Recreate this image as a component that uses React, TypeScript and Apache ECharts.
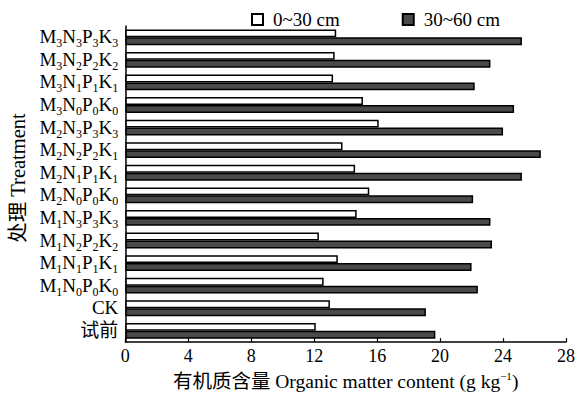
import React, { useEffect, useRef } from 'react';
import * as echarts from 'echarts';

const categories = [
  'M3N3P3K3', 'M3N2P2K2', 'M3N1P1K1', 'M3N0P0K0',
  'M2N3P3K3', 'M2N2P2K1', 'M2N1P1K1', 'M2N0P0K0',
  'M1N3P3K3', 'M1N2P2K2', 'M1N1P1K1', 'M1N0P0K0',
  'CK', '试前',
];
const layer0to30 = [13.4, 13.3, 13.2, 15.1, 16.1, 13.8, 14.6, 15.5, 14.7, 12.3, 13.5, 12.6, 13.0, 12.1];
const layer30to60 = [25.2, 23.2, 22.2, 24.7, 24.0, 26.4, 25.2, 22.1, 23.2, 23.3, 22.0, 22.4, 19.1, 19.7];
const seriesNames = ['0~30 cm', '30~60 cm'];
const xMin = 0;
const xMax = 28;
const xStep = 4;
const xName = '有机质含量 Organic matter content (g kg';
const yName = '处理 Treatment';

const FONT = '"Liberation Serif", "Noto Sans CJK SC", serif';

function formatCategory(v: string): string {
  if (!/^M\d/.test(v)) return `{m|${v}}`;
  return v.replace(/([A-Z])(\d)/g, '{m|$1}{s|$2}');
}

export default function App() {
  const ref = useRef<HTMLDivElement>(null);
  useEffect(() => {
    if (!ref.current) return;
    const chart = echarts.init(ref.current, undefined, { renderer: 'svg' });
    chart.setOption({
      animation: false,
      backgroundColor: '#fff',
      textStyle: { fontFamily: FONT, color: '#000' },
      legend: {
        data: seriesNames,
        left: 246,
        top: 5,
        itemWidth: 11,
        itemHeight: 11,
        itemGap: 62,
        icon: 'rect',
        textStyle: { fontFamily: FONT, fontSize: 19, color: '#000', padding: [0, 0, 0, 5] },
      },
      grid: { left: 125, right: 21, top: 26, bottom: 49, containLabel: false },
      xAxis: {
        type: 'value',
        min: xMin,
        max: xMax,
        interval: xStep,
        splitLine: { show: false },
        axisLine: { show: true, lineStyle: { color: '#000', width: 1.5 } },
        axisTick: { show: true, inside: true, length: 4, lineStyle: { color: '#000', width: 1.2 } },
        axisLabel: { fontFamily: FONT, fontSize: 18, color: '#000', margin: 5 },
        name: `{m|${xName}}{sup|−1}{m|)}`,
        nameLocation: 'middle',
        nameGap: 25,
        nameTextStyle: {
          rich: {
            m: { fontFamily: FONT, fontSize: 19.5, color: '#000', verticalAlign: 'bottom', lineHeight: 21 },
            sup: { fontFamily: FONT, fontSize: 11, color: '#000', verticalAlign: 'top', lineHeight: 11, padding: [0, 0, 10, 0] },
          },
        },
      },
      yAxis: {
        type: 'category',
        data: categories,
        inverse: true,
        axisLine: { show: true, lineStyle: { color: '#000', width: 1.5 } },
        axisTick: { show: false },
        axisLabel: {
          margin: 7,
          formatter: (v: string) => formatCategory(v),
          rich: {
            m: { fontFamily: FONT, fontSize: 19, color: '#000', verticalAlign: 'top', lineHeight: 20 },
            s: { fontFamily: FONT, fontSize: 12, color: '#000', verticalAlign: 'top', lineHeight: 12, padding: [10, 0, 0, 0] },
          },
        },
        name: yName,
        nameLocation: 'middle',
        nameGap: 92,
        nameRotate: 90,
        nameTextStyle: { fontFamily: FONT, fontSize: 20.5, color: '#000', padding: [0, 0, 0, 12] },
      },
      series: [
        {
          name: seriesNames[0],
          type: 'bar',
          data: layer0to30,
          barGap: '0%',
          barCategoryGap: '30%',
          itemStyle: { color: '#fff', borderColor: '#000', borderWidth: 1.5 },
        },
        {
          name: seriesNames[1],
          type: 'bar',
          data: layer30to60,
          barGap: '0%',
          barCategoryGap: '30%',
          itemStyle: { color: '#4a4a4a', borderColor: '#000', borderWidth: 1.5 },
        },
      ],
    });
    return () => chart.dispose();
  }, []);
  return (
    <div
      ref={ref}
      style={{ position: 'absolute', left: 0, top: 0, width: 587, height: 396, background: '#fff' }}
    />
  );
}
